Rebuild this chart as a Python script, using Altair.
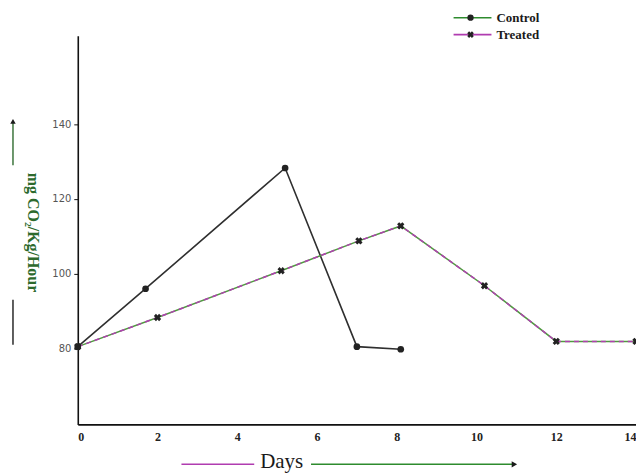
import altair as alt
import pandas as pd

# ---- data ----
control_days = [0, 1.7, 5.2, 7.0, 8.1]
control_values = [80.5, 96.0, 128.3, 80.5, 79.8]
treated_days = [0, 2.0, 5.1, 7.05, 8.1, 10.2, 12.0, 14.0]
treated_values = [80.5, 88.3, 100.8, 108.8, 112.8, 96.8, 81.9, 81.9]

x_ticks = [0, 2, 4, 6, 8, 10, 12, 14]
y_ticks = [80, 100, 120, 140]
series_names = ["Control", "Treated"]

control = pd.DataFrame({"day": control_days, "value": control_values, "series": "Control"})
treated = pd.DataFrame({"day": treated_days, "value": treated_values, "series": "Treated"})
one = pd.DataFrame({"a": [0]})

SERIF = "Liberation Serif"
xs = alt.Scale(domain=[0, 14], nice=False, zero=False)
ys = alt.Scale(domain=[59.7, 163.7], nice=False, zero=False)

x_enc = alt.X("day:Q", scale=xs,
              axis=alt.Axis(values=x_ticks, format="d", ticks=False, labelPadding=7,
                            labelFontWeight="bold", labelFontSize=12, labelFont=SERIF,
                            title="Days", titleX=204, titleY=37, titleFont=SERIF,
                            titleFontSize=21, titleFontWeight="normal", titleColor="#1a1a1a",
                            titleAlign="center", titleBaseline="middle"))
y_enc = alt.Y("value:Q", scale=ys,
              axis=alt.Axis(values=y_ticks, ticks=True, tickSize=4, labelFontSize=10,
                            labelFont="DejaVu Sans", labelColor="#555", labelPadding=3,
                            title="mg CO\u2082/Kg/Hour", titleAngle=90, titleX=-45,
                            titleY=197, titleFont=SERIF, titleFontSize=16,
                            titleFontWeight="bold", titleColor="#2d6a2d",
                            titleAlign="center", titleBaseline="middle"))

control_line = alt.Chart(control).mark_line(color="#2f2f2f", strokeWidth=1.6).encode(x=x_enc, y=y_enc)
control_pts = alt.Chart(control).mark_point(shape="circle", filled=True, size=45,
                                            color="#222", opacity=1).encode(x="day:Q", y="value:Q")
treated_base = alt.Chart(treated).mark_line(color="#4f9a3f", strokeWidth=1.5).encode(x="day:Q", y="value:Q")
treated_dash = alt.Chart(treated).mark_line(color="#b040b0", strokeWidth=1.5,
                                            strokeDash=[5, 4]).encode(x="day:Q", y="value:Q")
treated_pts = alt.Chart(treated).mark_point(shape="cross", angle=45, filled=True, size=55,
                                            color="#222", opacity=1).encode(x="day:Q", y="value:Q")

# ---- legend (top right) ----
def legend_row(ypix, name, line_color, shape):
    ln = alt.Chart(one).mark_rule(color=line_color, strokeWidth=1.6).encode(
        x=alt.value(377), x2=alt.value(415), y=alt.value(ypix))
    if shape == "circle":
        pt = alt.Chart(one).mark_point(shape="circle", filled=True, size=40, color="#222",
                                       opacity=1).encode(x=alt.value(394), y=alt.value(ypix))
    else:
        pt = alt.Chart(one).mark_point(shape="cross", angle=45, filled=True, size=45, color="#222",
                                       opacity=1).encode(x=alt.value(394), y=alt.value(ypix))
    tx = alt.Chart(one).mark_text(text=name, align="left", baseline="middle", font=SERIF,
                                  fontSize=13, fontWeight="bold", color="#1a1a1a").encode(
        x=alt.value(420), y=alt.value(ypix))
    return [ln, pt, tx]

legend_layers = legend_row(-18, series_names[0], "#2e8b2e", "circle") + \
                legend_row(-1, series_names[1], "#b03cb0", "cross")

# ---- decorative arrows beside the axis titles ----
days_left = alt.Chart(one).mark_rule(color="#b03cb0", strokeWidth=1.6).encode(
    x=alt.value(104), x2=alt.value(177), y=alt.value(430))
days_right = alt.Chart(one).mark_rule(color="#2e8b2e", strokeWidth=1.6).encode(
    x=alt.value(234), x2=alt.value(436), y=alt.value(430))
days_head = alt.Chart(one).mark_point(shape="triangle-right", filled=True, size=40,
                                      color="#1a1a1a", opacity=1).encode(x=alt.value(438), y=alt.value(430))
y_up = alt.Chart(one).mark_rule(color="#2e6b2e", strokeWidth=1.4).encode(
    x=alt.value(-65), y=alt.value(87), y2=alt.value(130))
y_head = alt.Chart(one).mark_point(shape="triangle-up", filled=True, size=30,
                                   color="#1a1a1a", opacity=1).encode(x=alt.value(-65), y=alt.value(86))
y_low = alt.Chart(one).mark_rule(color="#1a1a1a", strokeWidth=1.4).encode(
    x=alt.value(-65), y=alt.value(265), y2=alt.value(310))

chart = alt.layer(
    control_line, treated_base, treated_dash, control_pts, treated_pts,
    *legend_layers, days_left, days_right, days_head, y_up, y_head, y_low
).properties(
    width=560, height=390,
    padding={"left": 70, "top": 27, "right": 0, "bottom": 48},
    autosize=alt.AutoSizeParams(type="none"),
    background="white",
).configure_view(stroke=None).configure_axis(
    grid=False, domainColor="#111", domainWidth=1.6, tickColor="#111", labelColor="#222"
)

chart.save("out.html", embed_options={"renderer": "svg", "actions": False})
